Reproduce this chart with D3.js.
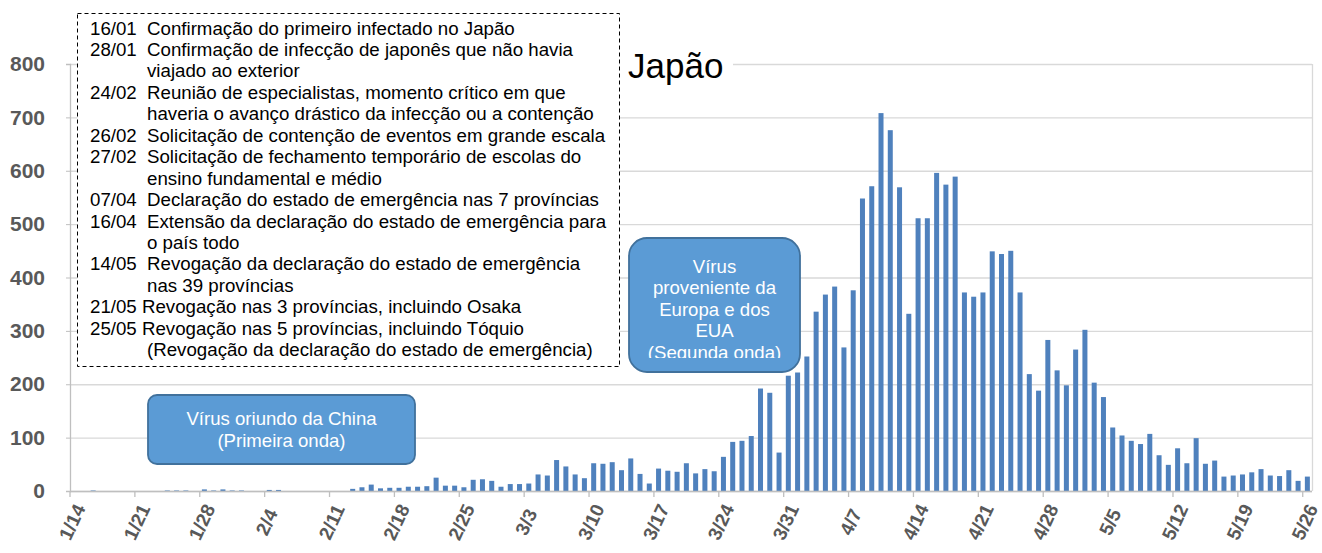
<!DOCTYPE html>
<html><head><meta charset="utf-8">
<script src="https://cdn.jsdelivr.net/npm/d3@7"></script>
<style>body{margin:0;background:#fff}svg{display:block}</style>
</head><body><svg id="c" width="1322" height="553"></svg>
<script>
// ---------- data ----------
const startDate = "2020-01-14";
const casesJan = [0,0,1,0,0,0,0,0,0,0,1,1,1,0,3,1,3,1];                       // 1/14 - 1/31
const casesFeb = [1,0,0,2,2,0,0,0,0,0,0,0,4,7,12,5,6,6,8,8,9,25,10,10,7,21,22,19,8]; // 2/1 - 2/29
const casesMar = [13,13,14,31,29,58,46,31,24,52,51,54,39,61,32,14,42,38,36,52,33,41,37,64,92,94,103,192,184,72,216];
const casesApr = [222,252,336,368,383,269,376,548,571,708,676,569,332,511,511,596,574,589,372,364,372,449,444,450,372,219,188,283,226,198];
const casesMay = [265,302,203,176,119,104,94,88,107,67,49,80,52,99,51,57,27,29,31,35,41,29,28,39,19,27];
const yTicks = [0,100,200,300,400,500,600,700,800];
const xTickLabels = ["1/14","1/21","1/28","2/4","2/11","2/18","2/25","3/3","3/10","3/17","3/24","3/31","4/7","4/14","4/21","4/28","5/5","5/12","5/19","5/26"];
const chartTitle = "Japão";
const notes = [
  {d:"16/01", t:["Confirmação do primeiro infectado no Japão"]},
  {d:"28/01", t:["Confirmação de infecção de japonês que não havia","viajado ao exterior"]},
  {d:"24/02", t:["Reunião de especialistas, momento crítico em que","haveria o avanço drástico da infecção ou a contenção"]},
  {d:"26/02", t:["Solicitação de contenção de eventos em grande escala"]},
  {d:"27/02", t:["Solicitação de fechamento temporário de escolas do","ensino fundamental e médio"]},
  {d:"07/04", t:["Declaração do estado de emergência nas 7 províncias"]},
  {d:"16/04", t:["Extensão da declaração do estado de emergência para","o país todo"]},
  {d:"14/05", t:["Revogação da declaração do estado de emergência","nas 39 províncias"]},
  {d:"21/05", t:["Revogação nas 3 províncias, incluindo Osaka"], inline:true},
  {d:"25/05", t:["Revogação nas 5 províncias, incluindo Tóquio","(Revogação da declaração do estado de emergência)"], inline:true}
];
const wave1Text = ["Vírus oriundo da China","(Primeira onda)"];
const wave2Text = ["Vírus","proveniente da","Europa e dos","EUA","(Segunda onda)"];

// ---------- build ----------
const values = [].concat(casesJan, casesFeb, casesMar, casesApr, casesMay);
const t0 = d3.timeParse("%Y-%m-%d")(startDate);
const dates = values.map((v,i)=>d3.timeDay.offset(t0,i));
const data = values.map((v,i)=>({i, date:dates[i], v}));

const svg = d3.select("#c");
const L=70, R=1312, T=64, B=491;
const x = d3.scaleBand().domain(d3.range(values.length)).range([L,R]).paddingInner(0.46).paddingOuter(0.23);
const y = d3.scaleLinear().domain([0,800]).range([B,T]);
const step = x.step();
const edge = i => x(i) - (step - x.bandwidth())/2;

const gridC="#d9d9d9", axisC="#bfbfbf", labC="#595959";
const FONT="'Liberation Sans', Arial, sans-serif";

// gridlines
svg.append("g").selectAll("line").data(yTicks).join("line")
  .attr("x1",L).attr("x2",R).attr("y1",d=>y(d)+0.5).attr("y2",d=>y(d)+0.5)
  .attr("stroke",gridC).attr("stroke-width",1.3);
// right border
svg.append("line").attr("x1",R+0.5).attr("x2",R+0.5).attr("y1",T).attr("y2",B).attr("stroke",gridC).attr("stroke-width",1.3);

// y axis
const ya = svg.append("g").attr("transform",`translate(${L},0)`)
  .call(d3.axisLeft(y).tickValues(yTicks).tickSize(4).tickPadding(21).tickFormat(d3.format("d")));
ya.select(".domain").attr("stroke",axisC).attr("stroke-width",1.3);
ya.selectAll(".tick line").attr("stroke",axisC);
ya.selectAll("text").attr("font-family",FONT).attr("font-weight","bold").attr("font-size",21).attr("fill",labC);

// bars
svg.append("g").selectAll("rect").data(data).join("rect")
  .attr("x",d=>x(d.i)).attr("width",x.bandwidth())
  .attr("y",d=>y(d.v)).attr("height",d=>B-y(d.v))
  .attr("fill","#4f81bd");

// x axis
const tickIdx = xTickLabels.map((s,k)=>k*7);
svg.append("line").attr("x1",L).attr("x2",R).attr("y1",B+0.5).attr("y2",B+0.5).attr("stroke",axisC).attr("stroke-width",1.3);
svg.append("g").selectAll("line").data(tickIdx).join("line")
  .attr("x1",d=>edge(d)).attr("x2",d=>edge(d)).attr("y1",B).attr("y2",B+6).attr("stroke",axisC).attr("stroke-width",1.3);
svg.append("g").selectAll("text").data(tickIdx).join("text")
  .attr("transform",(d,k)=>`translate(${edge(d)+2},${B+31}) rotate(-65)`)
  .attr("text-anchor","middle").attr("dy","0.35em")
  .attr("font-family",FONT).attr("font-weight","bold").attr("font-size",19).attr("fill",labC)
  .text((d,k)=>xTickLabels[k]);

// notes box
const nb = svg.append("g");
nb.append("rect").attr("x",77.5).attr("y",13.5).attr("width",542).attr("height",353)
  .attr("fill","#fff").attr("stroke","#000").attr("stroke-width",1).attr("stroke-dasharray","4,3");
let line=0; const lh=21.45, by0=34.5, fs=18.7;
notes.forEach(n=>{
  n.t.forEach((s,j)=>{
    const yy = by0 + line*lh;
    if(j===0){
      if(n.inline){
        nb.append("text").attr("x",90).attr("y",yy).text(n.d+" "+s);
      } else {
        nb.append("text").attr("x",90).attr("y",yy).text(n.d);
        nb.append("text").attr("x",147).attr("y",yy).text(s);
      }
    } else {
      nb.append("text").attr("x",147).attr("y",yy).text(s);
    }
    line++;
  });
});
nb.selectAll("text").attr("font-family",FONT).attr("font-size",fs).attr("fill","#000");

// title
svg.append("rect").attr("x",620).attr("y",50).attr("width",113).attr("height",30).attr("fill","#fff");
svg.append("text").attr("x",628).attr("y",77.5).attr("font-family",FONT).attr("font-size",35).attr("fill","#000").text(chartTitle);

// wave boxes
function waveBox(x0,y0,w,h,r,lines,cy0,clipBottom,id){
  const g = svg.append("g");
  g.append("rect").attr("x",x0).attr("y",y0).attr("width",w).attr("height",h).attr("rx",r)
    .attr("fill","#5b9bd5").attr("stroke","#41719c").attr("stroke-width",1.8);
  const cp = svg.append("defs").append("clipPath").attr("id",id);
  cp.append("rect").attr("x",x0).attr("y",y0).attr("width",w).attr("height",clipBottom-y0);
  const tg = g.append("g").attr("clip-path",`url(#${id})`);
  lines.forEach((s,k)=>{
    tg.append("text").attr("x",x0+w/2).attr("y",cy0+k*21.5).attr("dy","0.35em").attr("text-anchor","middle")
      .attr("font-family",FONT).attr("font-size",18.6).attr("fill","#fff").text(s);
  });
}
waveBox(148,395,267,69,9,wave1Text,418.5,464,"c1");
waveBox(629,238,171,134,18,wave2Text,266,358,"c2");
</script></body></html>
